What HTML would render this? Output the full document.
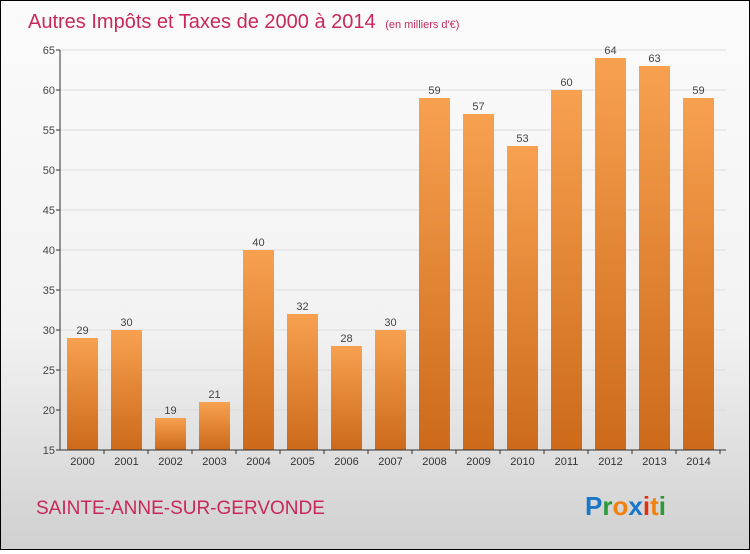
<!DOCTYPE html>
<html><head><meta charset="utf-8"><style>
body{margin:0;}
#wrap{width:748px;height:548px;border:1px solid #000;background:linear-gradient(#fbfbfb 0%,#f2f2f2 60%,#d0d0d0 100%);position:relative;font-family:"Liberation Sans",sans-serif;}
</style></head><body>
<div id="wrap">
<svg id="chart" width="748" height="548">
<defs><linearGradient id="bg" x1="0" y1="0" x2="0" y2="1"><stop offset="0" stop-color="#f7a150"/><stop offset="1" stop-color="#cc6a1a"/></linearGradient></defs>
<text x="27" y="27" font-size="20" fill="#c8285a">Autres Impôts et Taxes de 2000 à 2014 <tspan font-size="11" dx="4">(en milliers d'€)</tspan></text>
<text x="35" y="513" font-size="19" fill="#c8285a">SAINTE-ANNE-SUR-GERVONDE</text>
<text x="584" y="514" font-size="26" font-weight="bold"><tspan fill="#1a76c8">P</tspan><tspan fill="#2a9a3a">r</tspan><tspan fill="#f08010">o</tspan><tspan fill="#1a76c8">x</tspan><tspan fill="#e03010">i</tspan><tspan fill="#f08010">t</tspan><tspan fill="#2a9a3a">i</tspan></text>
<g id="plot"></g>
</svg>
</div>
<script>
const years=["2000","2001","2002","2003","2004","2005","2006","2007","2008","2009","2010","2011","2012","2013","2014"];
const values=[29,30,19,21,40,32,28,30,59,57,53,60,64,63,59];
const yTicks=[15,20,25,30,35,40,45,50,55,60,65];
const NS="http://www.w3.org/2000/svg";
const g=document.getElementById('plot');
const y0=449,y1=49,vmin=15,vmax=65,x0=59,step=44;
const yS=v=>y0-(v-vmin)/(vmax-vmin)*(y0-y1);
const xC=i=>81+i*step;
function mk(t,a){const e=document.createElementNS(NS,t);for(const k in a)e.setAttribute(k,a[k]);g.appendChild(e);return e;}
yTicks.forEach(v=>{
 const l=mk('line',{x1:x0,x2:725,y1:yS(v),y2:yS(v),stroke:'#ddd','stroke-width':1});
 
 
 const tk=mk('line',{x1:x0-4,x2:x0,y1:yS(v),y2:yS(v),stroke:'#333'});
 
 
 const t=mk('text',{x:x0-5,y:yS(v)+4,'text-anchor':'end','font-size':11,fill:'#444'});
 t.textContent=v;
 
 
});
values.forEach((v,i)=>{
 const b=mk('rect',{x:xC(i)-15,y:yS(v),width:31,height:y0-yS(v),fill:'url(#bg)'});
 
 
 const t=mk('text',{x:xC(i)+0.5,y:yS(v)-4,'text-anchor':'middle','font-size':11,fill:'#444'});
 t.textContent=v;
 
 
 const tk=mk('line',{x1:xC(i)+22,x2:xC(i)+22,y1:y0,y2:y0+4,stroke:'#333'});
 
 
 const xl=mk('text',{x:xC(i)+0.5,y:y0+15,'text-anchor':'middle','font-size':11,fill:'#333'});
 xl.textContent=years[i];
 
 
});
const ya=mk('line',{x1:x0,x2:x0,y1:y1,y2:y0,stroke:'#333'});


const xa=mk('line',{x1:x0,x2:725,y1:y0,y2:y0,stroke:'#333'});


</script>
</body></html>
